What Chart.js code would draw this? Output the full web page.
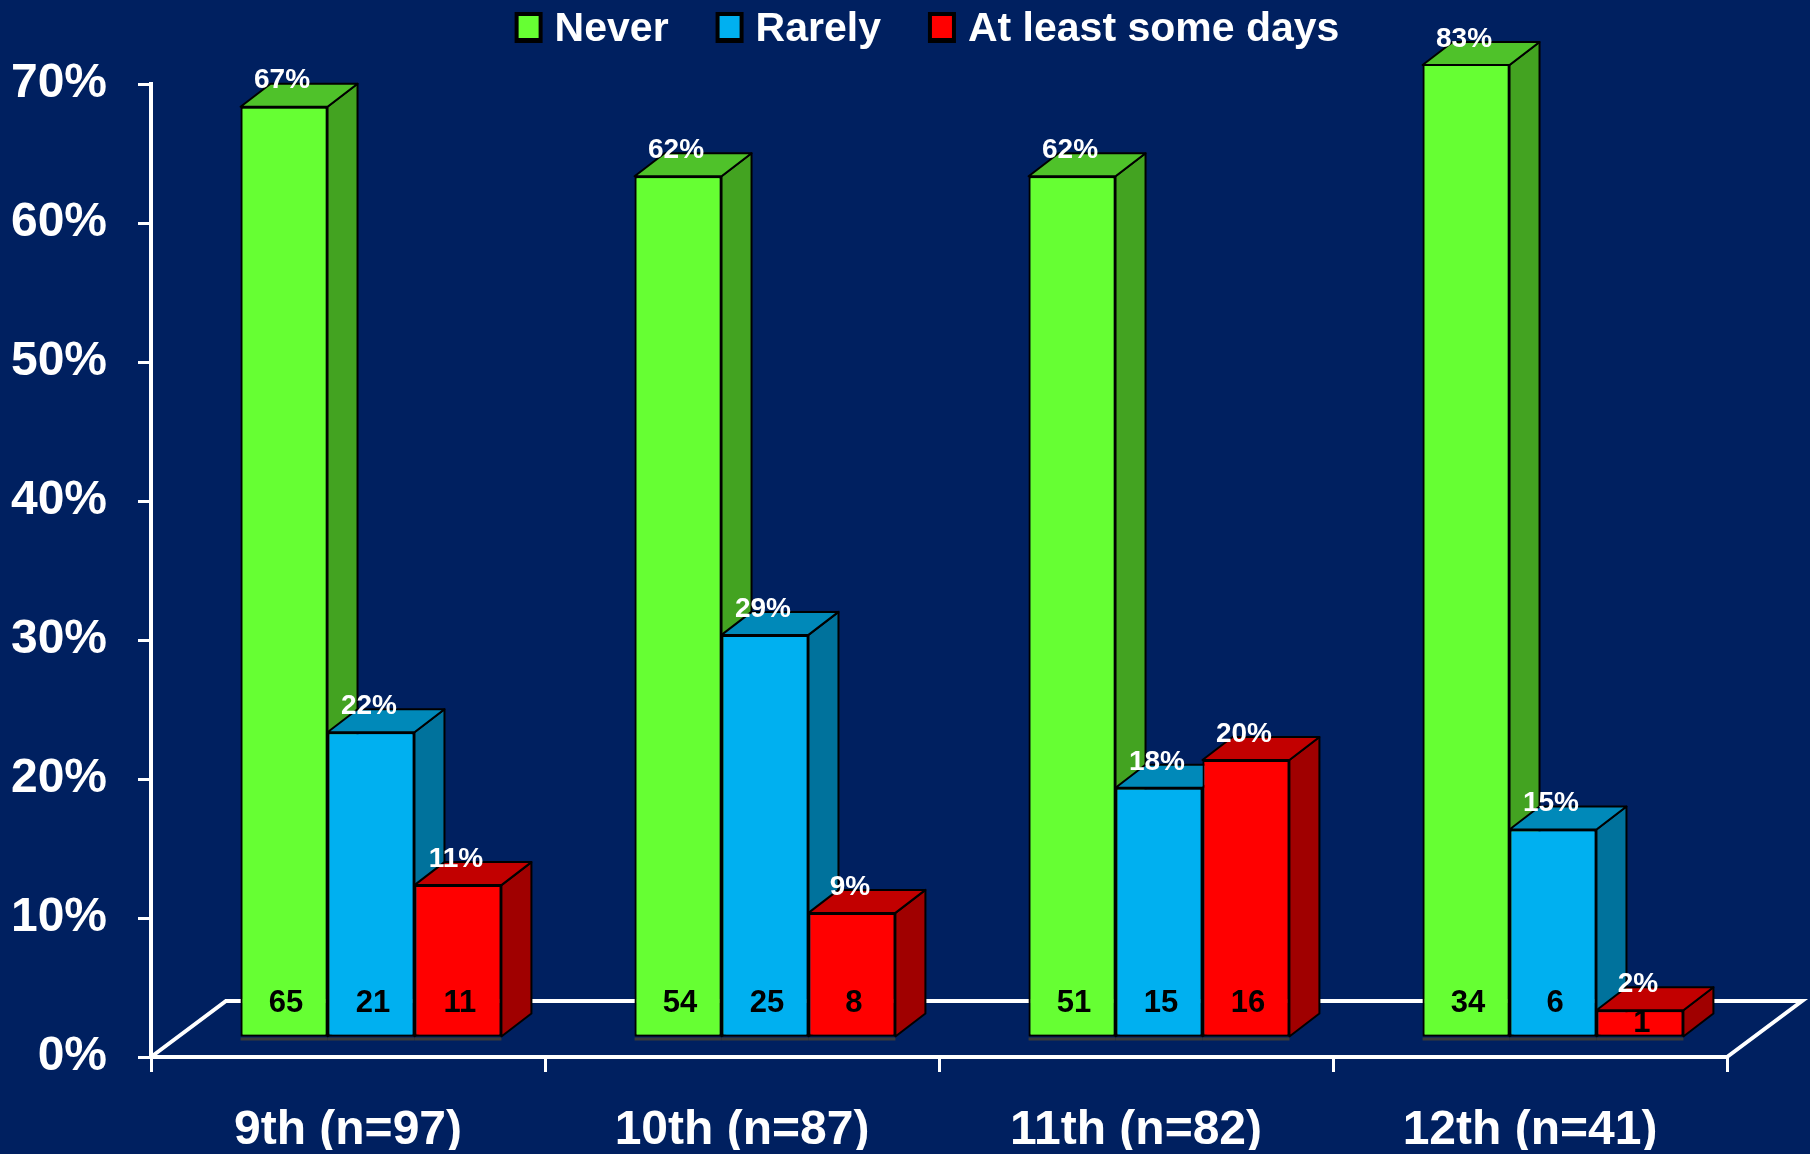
<!DOCTYPE html>
<html>
<head>
<meta charset="utf-8">
<title>Never / Rarely / At least some days by grade</title>
<script src="https://cdn.jsdelivr.net/npm/chart.js@4.4.1/dist/chart.umd.min.js"></script>
<style>
    html, body { margin: 0; padding: 0; background: #002060; }
    #wrap { width: 1810px; height: 1154px; position: relative; }
</style>
</head>
<body>
<div id="wrap"><canvas id="grade-chart"></canvas></div>
<script>
const categories = ['9th (n=97)', '10th (n=87)', '11th (n=82)', '12th (n=41)'];
const seriesNames = ['Never', 'Rarely', 'At least some days'];

// percent of each grade
const neverPct = [67, 62, 62, 83];
const rarelyPct = [22, 29, 18, 15];
const someDaysPct = [11, 9, 20, 2];

// counts printed at the foot of each bar
const neverN = [65, 54, 51, 34];
const rarelyN = [21, 25, 15, 6];
const someDaysN = [11, 8, 16, 1];

const FONT = '"Liberation Sans", Arial, sans-serif';

// front / top / side colours of the 3d bars
const faces = [
    { front: '#66ff33', top: '#4fc22a', side: '#43a321' },
    { front: '#00b0f0', top: '#0089b9', side: '#00729c' },
    { front: '#ff0000', top: '#c20000', side: '#a00000' },
];

// bars stand a little way back on the floor
const SHIFT_X = 23, SHIFT_Y = -19;
const DEPTH_X = 30, DEPTH_Y = -23;
const FLOOR_X = 75, FLOOR_Y = -56;

function poly(ctx, pts, fill) {
    ctx.beginPath();
    ctx.moveTo(pts[0][0], pts[0][1]);
    pts.slice(1).forEach(p => ctx.lineTo(p[0], p[1]));
    ctx.closePath();
    ctx.fillStyle = fill;
    ctx.fill();
    ctx.stroke();
}

const box3d = {
    id: 'box3d',
    beforeDatasetsDraw(chart) {
        const { ctx, chartArea: a } = chart;
        ctx.save();
        ctx.strokeStyle = '#ffffff';
        ctx.lineWidth = 4;
        ctx.beginPath();
        ctx.moveTo(a.left, a.bottom);
        ctx.lineTo(a.left + FLOOR_X, a.bottom + FLOOR_Y);
        ctx.lineTo(a.right + FLOOR_X, a.bottom + FLOOR_Y);
        ctx.lineTo(a.right, a.bottom);
        ctx.stroke();
        ctx.restore();

        ctx.save();
        ctx.translate(SHIFT_X, SHIFT_Y);
    },
    afterDatasetsDraw(chart) {
        const { ctx, chartArea: area } = chart;

        // redraw series front to back so each side face hides behind the next bar
        chart.data.datasets.forEach((ds, i) => {
            const meta = chart.getDatasetMeta(i);
            const f = faces[i];
            ctx.save();
            ctx.beginPath();
            ctx.rect(area.left - 5, area.top, area.right - area.left + 10, area.bottom - area.top + 5);
            ctx.clip();
            meta.data.forEach(el => el.draw(ctx));
            ctx.restore();

            ctx.save();
            ctx.strokeStyle = '#000000';
            ctx.lineWidth = 2;
            ctx.lineJoin = 'round';
            meta.data.forEach(bar => {
                const p = bar.getProps(['x', 'y', 'base', 'width'], true);
                const l = p.x - p.width / 2, r = p.x + p.width / 2;
                const t = Math.max(p.y, area.top), b = p.base;
                poly(ctx, [[r, t], [r + DEPTH_X, t + DEPTH_Y], [r + DEPTH_X, b + DEPTH_Y], [r, b]], f.side);
                poly(ctx, [[l, t], [l + DEPTH_X, t + DEPTH_Y], [r + DEPTH_X, t + DEPTH_Y], [r, t]], f.top);
                ctx.fillStyle = '#3a3a3a';
                ctx.fillRect(l, b + 1, r - l, 3);
            });
            ctx.restore();
        });
        ctx.restore();

        ctx.save();
        ctx.textAlign = 'center';
        ctx.textBaseline = 'middle';
        chart.data.datasets.forEach((ds, i) => {
            chart.getDatasetMeta(i).data.forEach((bar, j) => {
                const p = bar.getProps(['x', 'y', 'base', 'width'], true);
                const t = Math.max(p.y, area.top);
                const x = p.x + SHIFT_X;

                ctx.font = 'bold 28px ' + FONT;
                ctx.fillStyle = '#ffffff';
                ctx.fillText(ds.data[j] + '%', x - 2, t + SHIFT_Y - 26);

                const cy = Math.max(p.base - 33, (t + p.base) / 2);
                ctx.save();
                ctx.beginPath();
                ctx.rect(p.x - p.width / 2 + SHIFT_X, t + SHIFT_Y, p.width, p.base - t);
                ctx.clip();
                ctx.font = 'bold 31px ' + FONT;
                ctx.fillStyle = '#000000';
                ctx.fillText(String(ds.counts[j]), x + 2, cy + SHIFT_Y);
                ctx.restore();
            });
        });
        ctx.restore();
    },
};

const topLegend = {
    id: 'topLegend',
    afterDraw(chart) {
        const { ctx, chartArea: a } = chart;
        ctx.save();
        ctx.font = 'bold 41px ' + FONT;
        ctx.textBaseline = 'middle';
        ctx.textAlign = 'left';
        const boxW = 28, gap = 12, spacing = 47;
        const items = chart.data.datasets.map(ds => ({
            text: ds.label,
            color: ds.backgroundColor,
            w: ctx.measureText(ds.label).width,
        }));
        const total = items.reduce((s, it) => s + boxW + gap + it.w, 0) + spacing * (items.length - 1);
        let x = (a.left + a.right) / 2 - 12 - total / 2;
        items.forEach(it => {
            ctx.fillStyle = '#000000';
            ctx.fillRect(x, 12, boxW, 31);
            ctx.fillStyle = it.color;
            ctx.fillRect(x + 4, 16, boxW - 8, 22);
            ctx.fillStyle = '#ffffff';
            ctx.fillText(it.text, x + boxW + gap, 30);
            x += boxW + gap + it.w + spacing;
        });
        ctx.restore();
    },
};

const canvas = document.getElementById('grade-chart');

new Chart(canvas, {
    type: 'bar',
    data: {
        labels: categories,
        datasets: [
            { label: seriesNames[0], data: neverPct, counts: neverN },
            { label: seriesNames[1], data: rarelyPct, counts: rarelyN },
            { label: seriesNames[2], data: someDaysPct, counts: someDaysN },
        ].map((ds, i) => Object.assign(ds, {
            backgroundColor: faces[i].front,
            borderColor: '#000000',
            borderWidth: 2,
            borderSkipped: false,
            categoryPercentage: 0.662,
            barPercentage: 1.0,
        })),
    },
    options: {
        responsive: true,
        maintainAspectRatio: false,
        animation: false,
        layout: { padding: { top: 84, left: 11, right: 83, bottom: 4 } },
        plugins: {
            legend: { display: false },
            tooltip: { enabled: false },
        },
        scales: {
            y: {
                min: 0,
                max: 70,
                afterFit: scale => { scale.width = 140; },
                ticks: {
                    stepSize: 10,
                    padding: 31,
                    color: '#ffffff',
                    font: { family: FONT, size: 48, weight: 'bold' },
                    callback: v => v + '%',
                },
                grid: { drawOnChartArea: false, color: '#ffffff', lineWidth: 3, tickLength: 13 },
                border: { color: '#ffffff', width: 4 },
            },
            x: {
                afterFit: scale => { scale.height = 93; },
                ticks: {
                    padding: 35,
                    color: '#ffffff',
                    font: { family: FONT, size: 48, weight: 'bold', lineHeight: 1.0 },
                },
                grid: { drawOnChartArea: false, color: '#ffffff', lineWidth: 3, tickLength: 15 },
                border: { color: '#ffffff', width: 4 },
            },
        },
    },
    plugins: [box3d, topLegend],
});
</script>
</body>
</html>
